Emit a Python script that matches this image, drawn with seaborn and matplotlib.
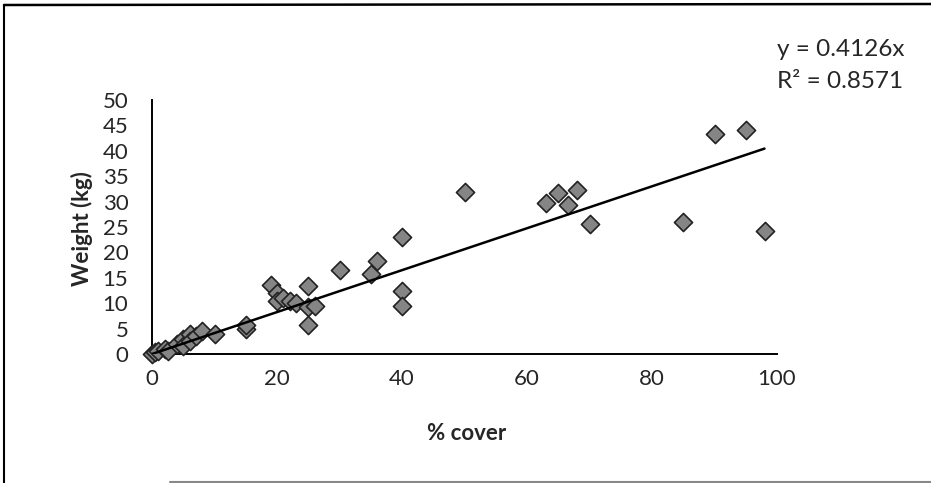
import numpy as np
import pandas as pd
import matplotlib
matplotlib.use('Agg')
import matplotlib.pyplot as plt
from matplotlib.lines import Line2D
import seaborn as sns

# % cover vs weight
cover = [0, 0.5, 1, 2, 2.5, 4, 5, 5, 6, 6, 7, 8, 10, 15, 15,
         19, 20, 20, 21, 22, 23, 25, 25, 25, 26, 30, 35, 36,
         40, 40, 40, 50, 63, 65, 66.5, 68, 70, 85, 90, 95, 98]
weight = [0, 0.3, 0.5, 1, 0.5, 2, 3, 1.5, 4, 2.5, 3.5, 4.5, 4, 5, 5.8,
          13.5, 12, 10.5, 11, 10.5, 10, 13.3, 9.3, 5.8, 9.5, 16.5, 15.8, 18.3,
          23, 12.5, 9.5, 31.8, 29.7, 31.7, 29.4, 32.3, 25.6, 26, 43.4, 44, 24.2]
slope = 0.4126
r2 = 0.8571

df = pd.DataFrame({'cover': cover, 'weight': weight})

sns.set_style('white')
plt.rcParams['font.family'] = ['Lato', 'DejaVu Sans']

W, H = 931, 483
fig = plt.figure(figsize=(W/100, H/100), dpi=100)
fig.patch.set_facecolor('white')
ax = fig.add_axes([152/W, 1-354/H, 625/W, 254/H])

sns.scatterplot(data=df, x='cover', y='weight', marker='D', s=85,
                color='#858585', edgecolor='#222222', linewidth=1.2,
                ax=ax, clip_on=False, zorder=3)

xs = np.array([0, max(cover)])
ax.plot(xs, slope*xs, color='black', lw=1.8, zorder=4)

ax.set_xlim(0, 100)
ax.set_ylim(0, 50)
ax.set_xticks(range(0, 101, 20))
ax.set_yticks(range(0, 51, 5))
ax.tick_params(axis='y', length=0, labelsize=16, pad=17)
ax.tick_params(axis='x', length=0, labelsize=16, pad=11)
for s in ['top', 'right']:
    ax.spines[s].set_visible(False)
for s in ['left', 'bottom']:
    ax.spines[s].set_color('black')
    ax.spines[s].set_linewidth(1.4)

ax.set_xlabel('% cover', fontsize=16, fontweight='bold', va='center')
ax.xaxis.set_label_coords(467/W, 1-434/H, transform=fig.transFigure)
ax.set_ylabel('Weight (kg)', fontsize=16, fontweight='bold', va='center')
ax.yaxis.set_label_coords(82/W, 1-229/H, transform=fig.transFigure)

fig.text(777/W, 1-50/H, f'y = {slope}x', fontsize=17.5, va='center', ha='left')
fig.text(777/W, 1-81/H, f'R² = {r2}', fontsize=17.5, va='center', ha='left')

# chart frame (scanned: top, left and part of the bottom edge)
fig.add_artist(Line2D([4/W, 1], [1-5/H, 1-4/H], transform=fig.transFigure,
                      color='black', lw=1.8))
fig.add_artist(Line2D([4/W, 4/W], [1-5/H, 0], transform=fig.transFigure,
                      color='black', lw=1.5))
fig.add_artist(Line2D([170/W, 1], [1/H, 1/H], transform=fig.transFigure,
                      color='#888888', lw=1.5))

fig.savefig('out.png', dpi=100, facecolor='white')
